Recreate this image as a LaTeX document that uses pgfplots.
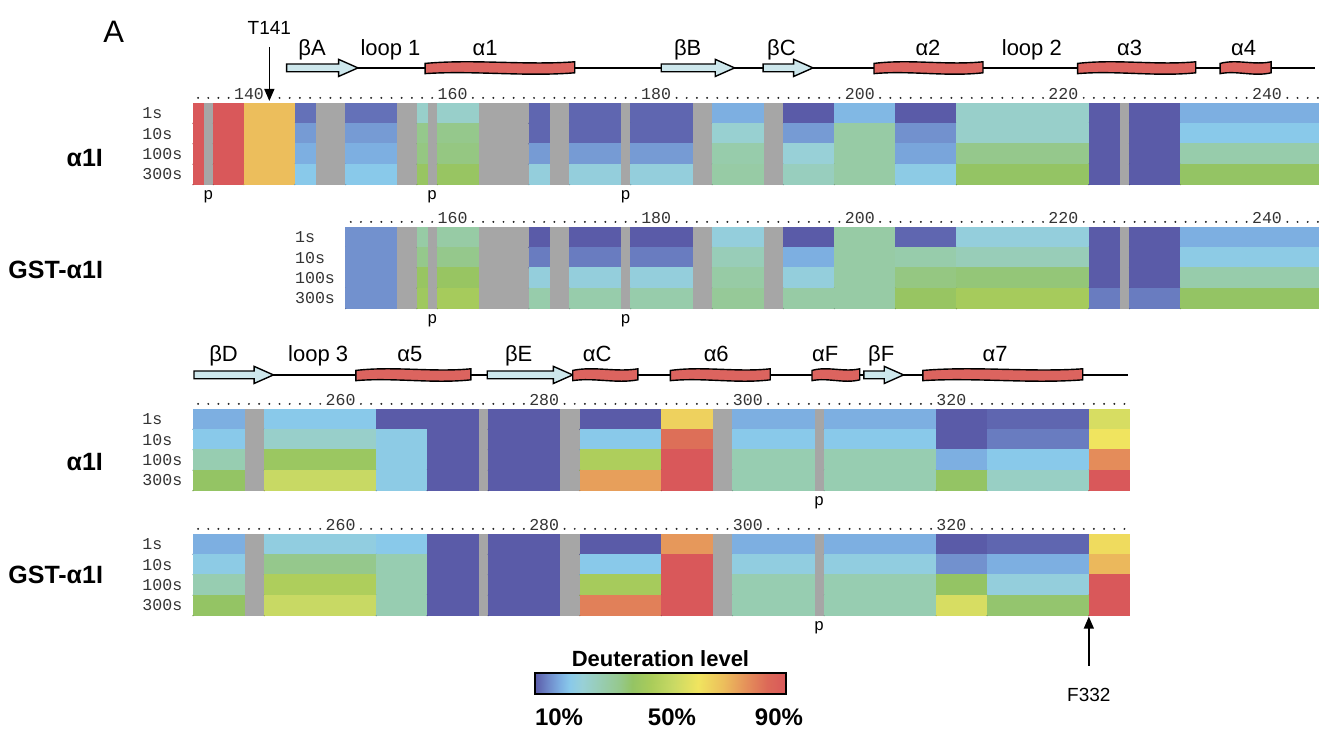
\documentclass[border=0pt]{standalone}
\usepackage{fontspec}
\setmainfont{Liberation Sans}
\setmonofont{Liberation Mono}
\usepackage{pgfplots}
\usepackage{pgfplotstable}
\pgfplotsset{compat=1.18}
\usetikzlibrary{arrows.meta}

\definecolor{cellgray}{RGB}{166,166,166}
\definecolor{strandcol}{RGB}{205,231,236}
\definecolor{helixcol}{RGB}{220,100,95}

\newcommand\rowfont{\ttfamily\fontsize{8.3}{9}\selectfont}
\newcommand\ssfont{\fontsize{11}{12}\selectfont}
\newcommand\panelfont{\bfseries\fontsize{12.5}{14}\selectfont}

\pgfplotsset{
  colormap={deut}{rgb255(10)=(90,91,168) rgb255(14)=(110,135,200) rgb255(18)=(125,175,225) rgb255(21)=(137,201,234) rgb255(25)=(152,208,215) rgb255(29)=(152,206,190) rgb255(33)=(151,203,165) rgb255(37)=(149,200,140) rgb255(41)=(148,196,100) rgb255(47)=(170,204,90) rgb255(54)=(200,217,100) rgb255(62)=(240,228,95) rgb255(70)=(236,190,92) rgb255(78)=(228,140,90) rgb255(84)=(220,105,88) rgb255(90)=(217,88,90)},
  panel/.style={anchor=north west, x=5.09pt, y=10.2pt, ymin=0, ymax=4,
    axis line style={draw=none}, xtick=\empty, ytick={0.5,1.5,2.5,3.5},
    yticklabels={300s,100s,10s,1s},
    yticklabel style={font=\rowfont, text=black!80, anchor=west, inner sep=0pt, xshift=-25.5pt},
    major tick length=0pt, axis background/.style={fill=cellgray},
    clip=false, colormap name=deut, point meta min=10, point meta max=90},
  seg/.style={scatter, only marks, mark=*, mark size=0.05pt, point meta=explicit,
    visualization depends on={\thisrow{e}-\thisrow{s}+1 \as \w},
    scatter/@pre marker code/.append code={\filldraw[mapped color, line width=0.3pt] (axis direction cs:0,0) rectangle (axis direction cs:\w,1);}},
}

% start residue, end residue, deuteration (%) at 1s, 10s, 100s, 300s
\pgfplotstableread{
s e c1 c2 c3 c4
134 134 90 90 90 90
136 138 90 90 90 90
139 143 70 70 70 70
144 145 12 16 18 21
149 153 12 16 18 21
156 156 27 37 38 42
158 161 27 37 38 42
167 168 11 11 16 24
171 175 11 11 16 24
177 182 11 11 16 24
185 189 18 26 32 33
192 196 10 16 25 29
197 202 19 33 33 33
203 208 10 15 17 22
209 221 27 27 37 41
222 224 10 10 10 10
226 230 10 10 10 10
231 244 18 21 32 41
}\tabAtop

\pgfplotstableread{
s e c1 c2 c3 c4
149 153 15 15 15 15
156 156 33 37 42 44
158 161 33 37 42 46
167 168 10 13 24 32
171 175 10 13 24 32
177 182 10 13 24 32
185 189 24 30 33 35
192 196 10 18 24 33
197 202 33 33 33 33
203 208 11 32 38 42
209 221 24 30 39 46
222 224 10 10 10 13
226 230 10 10 10 13
231 244 18 22 32 41
}\tabGtop

\pgfplotstableread{
s e c1 c2 c3 c4
245 249 18 21 31 41
252 262 21 27 43 54
263 267 10 22 22 22
268 272 10 10 10 10
274 280 10 10 10 10
283 290 10 21 48 75
291 295 66 83 90 90
298 305 18 21 31 31
307 317 18 21 31 31
318 322 10 10 18 41
323 332 11 13 21 28
333 336 57 62 78 90
}\tabAbot

\pgfplotstableread{
s e c1 c2 c3 c4
245 249 18 22 31 41
252 262 23 37 48 54
263 267 21 31 31 31
268 272 10 10 10 10
274 280 10 10 10 10
283 290 10 21 46 80
291 295 76 90 90 90
298 305 18 23 31 31
307 317 18 23 31 31
318 322 10 15 41 57
323 332 11 18 24 40
333 336 64 71 90 90
}\tabGbot

\newcommand\segrows[1]{%
  \addplot[seg] table[x expr=\thisrow{s}-0.5, y expr=3, meta=c1] {#1};
  \addplot[seg] table[x expr=\thisrow{s}-0.5, y expr=2, meta=c2] {#1};
  \addplot[seg] table[x expr=\thisrow{s}-0.5, y expr=1, meta=c3] {#1};
  \addplot[seg] table[x expr=\thisrow{s}-0.5, y expr=0, meta=c4] {#1};
}
\newcommand\ruler[3]{%
  \draw[black!85, line width=1.1pt, line cap=round, dash pattern=on 0pt off 5.09pt] (axis cs:#1,4.25) -- (axis cs:#2,4.25);
  \pgfplotsinvokeforeach{#3}{\node[font=\rowfont, text=black!80, fill=white, inner xsep=0.2pt, inner ysep=0.6pt, anchor=base] at (axis cs:##1-1,4.17) {##1};}%
}
\newcommand\pmark[1]{\node[font=\rowfont, anchor=north, inner sep=0pt, yshift=-3pt] at (axis cs:#1,0) {p};}
\newcommand\strand[3]{\draw[line width=0.7pt, fill=strandcol, line join=miter] (axis cs:#1,#3-0.19) -- (axis cs:#2-1.9,#3-0.19) -- (axis cs:#2-1.9,#3-0.42) -- (axis cs:#2,#3) -- (axis cs:#2-1.9,#3+0.42) -- (axis cs:#2-1.9,#3+0.19) -- (axis cs:#1,#3+0.19) -- cycle;}
\newcommand\helix[3]{\draw[line width=0.7pt, fill=helixcol] (axis cs:#1,#3+0.22) .. controls (axis cs:#1*0.67+#2*0.33,#3+0.44) and (axis cs:#1*0.33+#2*0.67,#3+0.12) .. (axis cs:#2,#3+0.30) -- (axis cs:#2,#3-0.24) .. controls (axis cs:#1*0.33+#2*0.67,#3-0.44) and (axis cs:#1*0.67+#2*0.33,#3-0.12) .. (axis cs:#1,#3-0.28) -- cycle;}
\newcommand\sslabel[2]{\node[font=\ssfont, anchor=base] at (axis cs:#1,6.35) {#2};}

\begin{document}
\begin{tikzpicture}
\useasboundingbox (0,0) rectangle (659.5pt,-365.5pt);

\node[font=\fontsize{15.5}{16}\selectfont] at (56.9pt,-16.1pt) {A};
\node[font=\panelfont, anchor=east] at (55pt,-79pt) {α1I};
\node[font=\panelfont, anchor=east] at (55pt,-135pt) {GST-α1I};
\node[font=\panelfont, anchor=east] at (55pt,-231pt) {α1I};
\node[font=\panelfont, anchor=east] at (55pt,-287.5pt) {GST-α1I};

% ---- top alpha1I ----
\begin{axis}[panel, at={(96.5pt,-51.5pt)}, xmin=133.5, xmax=244.5]
\segrows{\tabAtop}
\ruler{134}{244}{140,160,180,200,220,240}
\pmark{135}\pmark{157}\pmark{176}
\draw[line width=0.7pt] (axis cs:149,5.72) -- (axis cs:243.7,5.72);
\strand{142.7}{149.7}{5.72}
\helix{156.3}{171.0}{5.72}
\strand{179.5}{186.7}{5.72}
\strand{189.5}{194.4}{5.72}
\helix{200.4}{211.1}{5.72}
\helix{220.4}{232.0}{5.72}
\helix{234.4}{239.4}{5.72}
\sslabel{145.2}{βA}
\sslabel{152.9}{loop 1}
\sslabel{162.2}{α1}
\sslabel{182.1}{βB}
\sslabel{191.3}{βC}
\sslabel{205.7}{α2}
\sslabel{215.9}{loop 2}
\sslabel{225.5}{α3}
\sslabel{236.7}{α4}
\draw[line width=0.7pt,-{Triangle[length=6pt,width=5pt]}] (axis cs:141,6.75) -- (axis cs:141,4.1);
\node[font=\fontsize{9.5}{10}\selectfont] at (axis cs:141,7.68) {T141};
\end{axis}

% ---- top GST-alpha1I ----
\begin{axis}[panel, at={(172.85pt,-113.5pt)}, xmin=148.5, xmax=244.5]
\segrows{\tabGtop}
\ruler{149}{244}{160,180,200,220,240}
\pmark{157}\pmark{176}
\end{axis}

% ---- bottom alpha1I ----
\begin{axis}[panel, at={(96.5pt,-204.5pt)}, xmin=244.5, xmax=336.5]
\segrows{\tabAbot}
\ruler{245}{336}{260,280,300,320}
\pmark{306}
\draw[line width=0.7pt] (axis cs:252,5.67) -- (axis cs:336.3,5.67);
\strand{244.6}{252.4}{5.67}
\helix{260.5}{271.8}{5.67}
\strand{273.4}{281.8}{5.67}
\helix{281.8}{288.2}{5.67}
\helix{291.4}{301.2}{5.67}
\helix{305.3}{310.0}{5.67}
\strand{310.4}{314.3}{5.67}
\helix{316.2}{331.9}{5.67}
\sslabel{247.5}{βD}
\sslabel{256.8}{loop 3}
\sslabel{265.8}{α5}
\sslabel{276.5}{βE}
\sslabel{284.2}{αC}
\sslabel{295.9}{α6}
\sslabel{306.6}{αF}
\sslabel{312.1}{βF}
\sslabel{323.3}{α7}
\end{axis}

% ---- bottom GST-alpha1I ----
\begin{axis}[panel, at={(96.5pt,-267pt)}, xmin=244.5, xmax=336.5]
\segrows{\tabGbot}
\ruler{245}{336}{260,280,300,320}
\pmark{306}
\draw[line width=0.7pt,-{Triangle[length=6pt,width=5pt]}] (axis cs:332.5,-2.45) -- (axis cs:332.5,-0.05);
\node[font=\fontsize{9.5}{10}\selectfont] at (axis cs:332.5,-3.9) {F332};
\end{axis}

% ---- colour scale ----
\begin{axis}[at={(267.5pt,-336.5pt)}, anchor=north west, scale only axis, width=125.5pt, height=10.5pt,
  xmin=10, xmax=90, ymin=0, ymax=1, xtick={10,50,90},
  xticklabels={\rlap{10\%},\hspace*{11.5pt}50\%,\llap{90\%\kern-8.5pt}},
  xticklabel style={font=\bfseries\fontsize{12}{13}\selectfont, anchor=base, yshift=-16pt},
  ytick=\empty, major tick length=0pt,
  title={Deuteration level}, title style={font=\bfseries\fontsize{11}{12}\selectfont, at={(0.5,1)}, anchor=base, yshift=-3pt},
  colormap name=deut, point meta min=10, point meta max=90, axis line style={line width=0.6pt}, axis on top]
\addplot[patch, patch type=rectangle, shader=interp, point meta=x] coordinates {(10,0) (90,0) (90,1) (10,1)};
\end{axis}
\end{tikzpicture}
\end{document}
